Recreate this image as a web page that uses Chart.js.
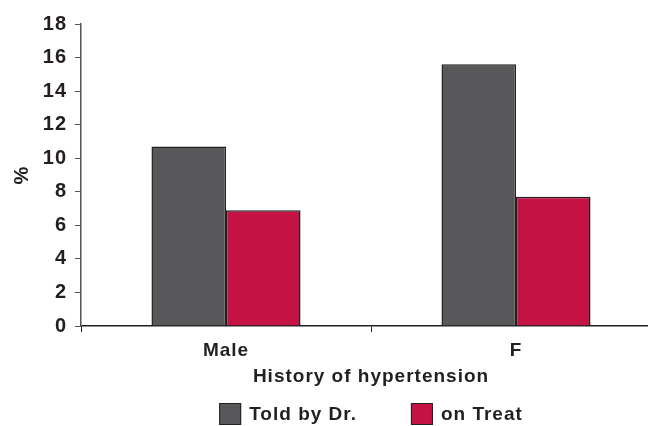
<!DOCTYPE html>
<html>
<head>
<meta charset="utf-8">
<script src="https://cdn.jsdelivr.net/npm/chart.js@4/dist/chart.umd.min.js"></script>
<style>
  html, body { margin: 0; padding: 0; background: #fff; overflow: hidden; }
  #wrap { position: relative; width: 742px; height: 426px; }
</style>
</head>
<body>
<div id="wrap"><canvas id="chart" width="742" height="426"></canvas></div>
<script>
// Prevalence of hypertension by sex (%)
const categories = ['Male', 'F'];
const toldByDr = [10.7, 15.6];
const onTreat = [6.9, 7.7];
const seriesNames = ['Told by Dr.', 'on Treat'];
const yTicks = [0, 2, 4, 6, 8, 10, 12, 14, 16, 18];

const FONT = '"Liberation Sans", Arial, Helvetica, sans-serif';
const INK = '#231f20';
const GRAY = '#58585a';
const RED = '#c41244';

// Slightly tracked-out lettering for all chart text
const wideText = {
  id: 'wideText',
  beforeDraw(chart) { chart.ctx.letterSpacing = '1px'; }
};

// Legend drawn under the axis title, centred on the plot area
const bottomLegend = {
  id: 'bottomLegend',
  afterDraw(chart) {
    const ctx = chart.ctx;
    const area = chart.chartArea;
    const box = 22, gapText = 8, gapItem = 54;
    ctx.save();
    ctx.letterSpacing = '1px';
    ctx.font = 'bold 19px ' + FONT;
    ctx.textBaseline = 'middle';
    const items = chart.data.datasets.map(ds => ({
      label: ds.label, color: ds.backgroundColor, w: ctx.measureText(ds.label).width
    }));
    let total = 0;
    items.forEach((it, i) => { total += box + gapText + it.w + (i ? gapItem : 0); });
    let x = (area.left + area.right) / 2 - total / 2;
    const top = 403;
    items.forEach(it => {
      ctx.fillStyle = it.color;
      ctx.fillRect(x, top, box, box);
      ctx.strokeStyle = INK;
      ctx.lineWidth = 1;
      ctx.strokeRect(x + 0.5, top + 0.5, box - 1, box - 1);
      ctx.fillStyle = INK;
      ctx.fillText(it.label, x + box + gapText, top + box / 2 + 1);
      x += box + gapText + it.w + gapItem;
    });
    ctx.restore();
  }
};

new Chart(document.getElementById('chart'), {
  type: 'bar',
  data: {
    labels: categories,
    datasets: [
      { label: seriesNames[0], data: toldByDr, backgroundColor: GRAY, borderColor: INK, borderWidth: 1.5 },
      { label: seriesNames[1], data: onTreat, backgroundColor: RED, borderColor: INK, borderWidth: 1.5 }
    ]
  },
  options: {
    responsive: false,
    animation: false,
    layout: { padding: { left: 0, right: 81, top: 24, bottom: 38 } },
    datasets: { bar: { categoryPercentage: 0.514, barPercentage: 1.0 } },
    plugins: { legend: { display: false }, tooltip: { enabled: false } },
    scales: {
      x: {
        offset: true,
        grid: { offset: true, drawOnChartArea: false, drawTicks: true, tickLength: 6, color: INK, lineWidth: 1 },
        border: { display: true, color: INK, width: 1.5 },
        ticks: { color: INK, font: { family: FONT, size: 19, weight: 'bold' }, padding: 7 },
        title: { display: true, text: 'History of hypertension', color: INK,
                 font: { family: FONT, size: 19, weight: 'bold' }, padding: { top: 2, bottom: 0 } },
        afterFit(scale) { scale.height = 62; }
      },
      y: {
        min: 0, max: 18,
        afterBuildTicks(scale) { scale.ticks = yTicks.map(v => ({ value: v })); },
        grid: { drawOnChartArea: false, drawTicks: true, tickLength: 6, color: '#555', lineWidth: 1 },
        border: { display: true, color: '#555', width: 1.5 },
        ticks: { color: INK, font: { family: FONT, size: 20, weight: 'bold' }, padding: 8 },
        title: { display: true, text: '%', color: INK,
                 font: { family: FONT, size: 20, weight: 'bold' }, padding: { top: 10, bottom: 0 } },
        afterFit(scale) { scale.width = 81; }
      }
    }
  },
  plugins: [wideText, bottomLegend]
});
</script>
</body>
</html>
